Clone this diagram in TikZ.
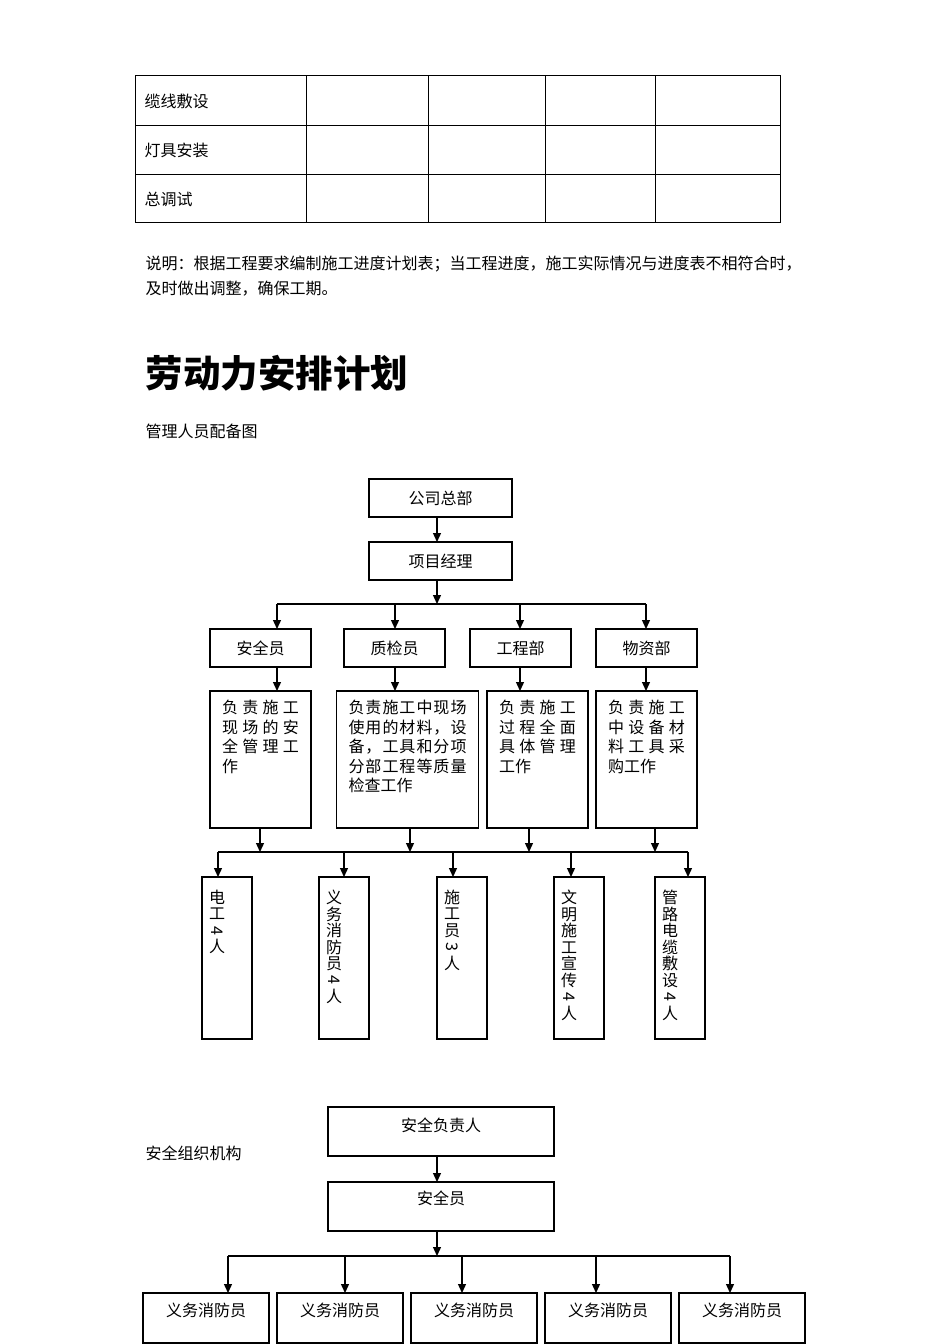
\documentclass[tikz,border=0pt]{standalone}
\usepackage{fontspec}
\setmainfont{Noto Sans CJK SC}
\usepackage{graphicx}
\usepackage{tikz}
\usetikzlibrary{arrows.meta}
\usetikzlibrary{positioning}
% one line of characters spread over a given width
\newcommand\spreadline[2]{\hbox to #1{\spreadloop#2\relax\unskip}}
\def\spreadloop#1{\ifx\relax#1\else#1\hfil\expandafter\spreadloop\fi}
\newcommand\dutytext[1]{\vbox to 137pt{\vskip 9pt\baselineskip=19.6pt #1\vfil}}
\newcommand\vc[1]{\hbox to 36pt{\hbox to 16pt{\hss#1\hss}\hfil}}
\newcommand\rotd[1]{\rotatebox[origin=c]{-90}{#1}}
\newcommand\worktext[1]{\vbox to 162pt{\vskip 13pt\baselineskip=16.5pt #1\vfil}}

\begin{document}
\begin{tikzpicture}[x=1pt,y=-1pt,>={Triangle[length=9pt,width=8pt]},line width=1.3pt,font=\fontsize{16}{25}\selectfont]
\tikzstyle{dept} = [draw,rectangle,inner sep=0pt,outer sep=0pt,minimum height=38pt]
\tikzstyle{duty} = [draw,rectangle,inner xsep=12pt,inner ysep=0pt,outer sep=0pt]
\tikzstyle{worker} = [draw,rectangle,inner xsep=7pt,inner ysep=0pt,outer sep=0pt]
\tikzstyle{lead} = [draw,rectangle,inner sep=0pt,outer sep=0pt,minimum width=226pt,text height=24pt,text depth=25pt]
\tikzstyle{fireman} = [draw,rectangle,inner sep=0pt,outer sep=0pt,minimum width=126pt,text height=23pt,text depth=27pt]
\tikzstyle{plain} = [inner sep=0pt,anchor=west]

\useasboundingbox (0,0) rectangle (950,1344);

% schedule table
\draw[line width=1pt] (135,75) rectangle (780,222);
\foreach \y in {125,174} \draw[line width=1pt] (135,\y) -- (780,\y);
\foreach \x in {306,428,545,655} \draw[line width=1pt] (\x,75) -- (\x,222);
\node[plain] (row1) at (144,101) {缆线敷设};
\node[plain] (row2) at (144,150) {灯具安装};
\node[plain] (row3) at (144,199) {总调试};

\node[inner sep=0pt,anchor=north west,align=left] (note) at (145,255) {说明：根据工程要求编制施工进度计划表；当工程进度，施工实际情况与进度表不相符合时，\\及时做出调整，确保工期。};

\node[plain,font=\fontsize{37.5}{40}\selectfont\bfseries] (title) at (145,373) {劳动力安排计划};
\node[plain] (chart1) at (145,431) {管理人员配备图};

% management chart
\node[dept,minimum width=143pt] (HQ) at (440.5,498) {公司总部};
\node[dept,minimum width=143pt] (PM) [below=25pt of HQ] {项目经理};

\node[dept,minimum width=101pt,anchor=north west] (S1) at (210,629) {安全员};
\node[dept,minimum width=101pt] (S2) [right=33pt of S1] {质检员};
\node[dept,minimum width=101pt] (S3) [right=25pt of S2] {工程部};
\node[dept,minimum width=101pt] (S4) [right=25pt of S3] {物资部};

\node[duty] (D1) [below=24pt of S1] {\dutytext{\spreadline{77pt}{负责施工}\spreadline{77pt}{现场的安}\spreadline{77pt}{全管理工}\hbox{作}}};
\node[duty] (D2) [below=24pt of S2,xshift=13pt] {\dutytext{\spreadline{118pt}{负责施工中现场}\spreadline{118pt}{使用的材料，设}\spreadline{118pt}{备，工具和分项}\spreadline{118pt}{分部工程等质量}\hbox{检查工作}}};
\node[duty] (D3) [below=24pt of S3,xshift=17pt] {\dutytext{\spreadline{77pt}{负责施工}\spreadline{77pt}{过程全面}\spreadline{77pt}{具体管理}\hbox{工作}}};
\node[duty] (D4) [below=24pt of S4] {\dutytext{\spreadline{77pt}{负责施工}\spreadline{77pt}{中设备材}\spreadline{77pt}{料工具采}\hbox{购工作}}};

\node[worker,anchor=north west] (W1) at (202,877) {\worktext{\vc{电}\vc{工}\vc{\rotd{4}}\vc{人}}};
\node[worker] (W2) [right=67pt of W1] {\worktext{\vc{义}\vc{务}\vc{消}\vc{防}\vc{员}\vc{\rotd{4}}\vc{人}}};
\node[worker] (W3) [right=68pt of W2] {\worktext{\vc{施}\vc{工}\vc{员}\vc{\rotd{3}}\vc{人}}};
\node[worker] (W4) [right=67pt of W3] {\worktext{\vc{文}\vc{明}\vc{施}\vc{工}\vc{宣}\vc{传}\vc{\rotd{4}}\vc{人}}};
\node[worker] (W5) [right=51pt of W4] {\worktext{\vc{管}\vc{路}\vc{电}\vc{缆}\vc{敷}\vc{设}\vc{\rotd{4}}\vc{人}}};

\coordinate (j1) at (437,604);
\draw[->] (HQ.south -| j1) -- (PM.north -| j1);
\draw[->] (PM.south -| j1) -- (j1);
\foreach \x [count=\i] in {277,395,520,646} \coordinate (a\i) at (\x,604);
\draw (a1) -- (a4);
\foreach \i in {1,...,4} {
  \draw[->] (a\i) -- (a\i |- S\i.north);
  \draw[->] (S\i.south -| a\i) -- (D\i.north -| a\i);
}
\foreach \x [count=\i] in {260,410,529,655} \coordinate (u\i) at (\x,852);
\foreach \x [count=\i] in {218,344,453,571,688} \coordinate (c\i) at (\x,852);
\draw (c1) -- (c5);
\foreach \i in {1,...,4} \draw[->] (D\i.south -| u\i) -- (u\i);
\foreach \i in {1,...,5} \draw[->] (c\i) -- (c\i |- W\i.north);

% safety organisation
\node[plain] (chart2) at (145,1153) {安全组织机构};
\node[lead,anchor=north west] (SR) at (328,1107) {安全负责人};
\node[lead,text height=22pt,text depth=27pt] (SO) [below=26pt of SR] {安全员};

\node[fireman,anchor=north west] (F1) at (143,1293) {义务消防员};
\node[fireman] (F2) [right=8pt of F1] {义务消防员};
\node[fireman] (F3) [right=8pt of F2] {义务消防员};
\node[fireman] (F4) [right=8pt of F3] {义务消防员};
\node[fireman] (F5) [right=8pt of F4] {义务消防员};

\coordinate (j3) at (437,1256);
\draw[->] (SR.south -| j3) -- (SO.north -| j3);
\draw[->] (SO.south -| j3) -- (j3);
\foreach \x [count=\i] in {228,345,462,596,730} \coordinate (f\i) at (\x,1256);
\draw (f1) -- (f5);
\foreach \i in {1,...,5} \draw[->] (f\i) -- (f\i |- F\i.north);
\end{tikzpicture}
\end{document}
